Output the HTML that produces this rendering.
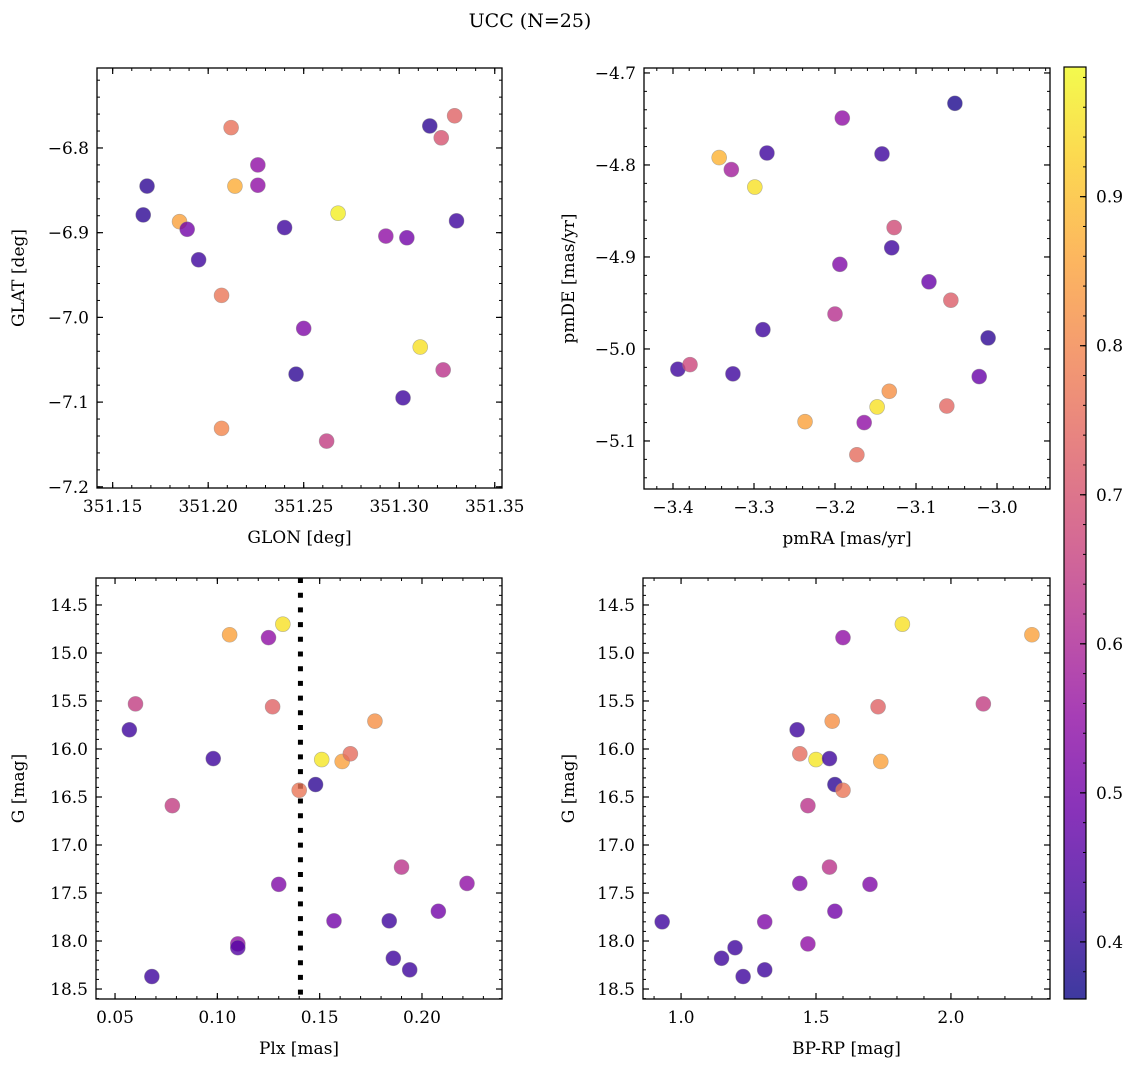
<!DOCTYPE html>
<html><head><meta charset="utf-8">
<style>
html,body{margin:0;padding:0;background:#fff;}
svg{display:block;font-family:"DejaVu Serif","Liberation Serif",serif;}
</style></head>
<body>
<svg id="fig" width="1136" height="1067" viewBox="0 0 1136 1067" xmlns="http://www.w3.org/2000/svg">
<text x="530" y="27" font-size="19" text-anchor="middle">UCC (N=25)</text>
</svg>
<script>
// ---- data ----
const glon = [351.168,351.166,351.185,351.189,351.195,351.207,351.207,351.212,351.214,351.226,351.226,351.240,351.250,351.246,351.262,351.268,351.293,351.304,351.302,351.311,351.316,351.322,351.329,351.330,351.323];
const glat = [-6.845,-6.879,-6.887,-6.896,-6.932,-6.974,-7.131,-6.776,-6.845,-6.820,-6.844,-6.894,-7.013,-7.067,-7.146,-6.877,-6.904,-6.906,-7.095,-7.035,-6.774,-6.788,-6.762,-6.886,-7.062];
const probTL = [0.40,0.40,0.85,0.50,0.42,0.77,0.80,0.76,0.87,0.55,0.55,0.42,0.52,0.40,0.65,0.97,0.55,0.50,0.42,0.95,0.40,0.70,0.73,0.42,0.63];

const pmra = [-3.052,-3.191,-3.343,-3.328,-3.284,-3.299,-3.142,-3.127,-3.130,-3.194,-3.084,-3.057,-3.200,-3.289,-3.011,-3.394,-3.379,-3.326,-3.022,-3.133,-3.148,-3.062,-3.237,-3.164,-3.173];
const pmde = [-4.733,-4.749,-4.792,-4.805,-4.787,-4.824,-4.788,-4.868,-4.890,-4.908,-4.927,-4.947,-4.962,-4.979,-4.988,-5.022,-5.017,-5.027,-5.030,-5.046,-5.063,-5.062,-5.079,-5.080,-5.115];
const probTR = [0.38,0.55,0.88,0.58,0.42,0.95,0.42,0.68,0.42,0.52,0.48,0.72,0.62,0.42,0.40,0.42,0.67,0.42,0.48,0.82,0.95,0.74,0.85,0.55,0.75];

const plx = [0.057,0.060,0.078,0.068,0.098,0.106,0.110,0.110,0.125,0.127,0.130,0.132,0.140,0.148,0.151,0.161,0.165,0.157,0.177,0.190,0.184,0.186,0.194,0.208,0.222];
const gmagBL = [15.80,15.53,16.59,18.37,16.10,14.81,18.03,18.07,14.84,15.56,17.41,14.70,16.43,16.37,16.11,16.13,16.05,17.79,15.71,17.23,17.79,18.18,18.30,17.69,17.40];
const probBL = [0.42,0.65,0.65,0.42,0.42,0.85,0.55,0.45,0.55,0.73,0.52,0.95,0.77,0.40,0.96,0.85,0.75,0.50,0.82,0.63,0.42,0.42,0.42,0.50,0.55];
const plxMedian = 0.1406;

const bprp = [0.93,1.15,1.20,1.23,1.31,1.31,1.43,1.44,1.44,1.47,1.47,1.50,1.55,1.55,1.56,1.57,1.57,1.60,1.60,1.70,1.73,1.74,1.82,2.12,2.30];
const gmagBR = [17.80,18.18,18.07,18.37,17.80,18.30,15.80,16.05,17.40,16.59,18.03,16.11,16.10,17.23,15.71,16.37,17.69,16.43,14.84,17.41,15.56,16.13,14.70,15.53,14.81];
const probBR = [0.42,0.42,0.42,0.42,0.52,0.42,0.42,0.75,0.52,0.63,0.55,0.96,0.42,0.63,0.82,0.40,0.50,0.77,0.55,0.52,0.73,0.85,0.95,0.65,0.85];

const ticksGlon = [351.15,351.20,351.25,351.30,351.35];
const ticksGlat = [-6.8,-6.9,-7.0,-7.1,-7.2];
const ticksPmra = [-3.4,-3.3,-3.2,-3.1,-3.0];
const ticksPmde = [-4.7,-4.8,-4.9,-5.0,-5.1];
const ticksPlx = [0.05,0.10,0.15,0.20];
const ticksG = [14.5,15.0,15.5,16.0,16.5,17.0,17.5,18.0,18.5];
const ticksBprp = [1.0,1.5,2.0];
const ticksCbar = [0.4,0.5,0.6,0.7,0.8,0.9];
const cMin = 0.3617, cMax = 0.987;

// ---- helpers ----
const NS = "http://www.w3.org/2000/svg";
const svg = document.getElementById('fig');
const FS = 17;
function mk(tag, attrs, parent){const e=document.createElementNS(NS,tag);for(const k in attrs)e.setAttribute(k,attrs[k]);(parent||svg).appendChild(e);return e;}
const plasma=[[13,8,135],[65,4,157],[106,0,168],[143,13,164],[177,42,144],[204,71,120],[225,100,98],[242,132,75],[252,166,54],[252,206,37],[240,249,33]];
function cmap(v){let t=(v-cMin)/(cMax-cMin);t=Math.max(0,Math.min(1,t))*10;const i=Math.min(9,Math.floor(t)),f=t-i;const a=plasma[i],b=plasma[i+1];return `rgb(${Math.round(a[0]+(b[0]-a[0])*f)},${Math.round(a[1]+(b[1]-a[1])*f)},${Math.round(a[2]+(b[2]-a[2])*f)})`;}
function fmt(v,d){const s=Math.abs(v).toFixed(d);return (v<0?'\u2212':'')+s;}

function panel(cfg){
  const g=mk('g',{});
  
  
  const {x0,x1,y0,y1,xd,yd}=cfg;
  const sx=v=>x0+(v-xd[0])/(xd[1]-xd[0])*(x1-x0);
  const sy=v=>y0+(v-yd[0])/(yd[1]-yd[0])*(y1-y0);
  const lo=Math.min(xd[0],xd[1]),hi=Math.max(xd[0],xd[1]);
  const ylo=Math.min(yd[0],yd[1]),yhi=Math.max(yd[0],yd[1]);
  for(let k=Math.ceil(lo/cfg.xminor-1e-6);k*cfg.xminor<=hi+1e-9;k++){const X=sx(k*cfg.xminor);
    mk('line',{x1:X,x2:X,y1:y1,y2:y1-3,stroke:'#000','stroke-width':1},g);mk('line',{x1:X,x2:X,y1:y0,y2:y0+3,stroke:'#000','stroke-width':1},g);}
  for(let k=Math.ceil(ylo/cfg.yminor-1e-6);k*cfg.yminor<=yhi+1e-9;k++){const Y=sy(k*cfg.yminor);
    mk('line',{x1:x0,x2:x0+3,y1:Y,y2:Y,stroke:'#000','stroke-width':1},g);mk('line',{x1:x1,x2:x1-3,y1:Y,y2:Y,stroke:'#000','stroke-width':1},g);}
  cfg.xt.forEach(v=>{const X=sx(v);
    mk('line',{x1:X,x2:X,y1:y1,y2:y1-6,stroke:'#000','stroke-width':1.2},g);mk('line',{x1:X,x2:X,y1:y0,y2:y0+6,stroke:'#000','stroke-width':1.2},g);
    const t=mk('text',{x:X,y:y1+24,'font-size':FS,'text-anchor':'middle'},g);t.textContent=fmt(v,cfg.xdec);
    
    });
  cfg.yt.forEach(v=>{const Y=sy(v);
    mk('line',{x1:x0,x2:x0+6,y1:Y,y2:Y,stroke:'#000','stroke-width':1.2},g);mk('line',{x1:x1,x2:x1-6,y1:Y,y2:Y,stroke:'#000','stroke-width':1.2},g);
    const t=mk('text',{x:x0-8,y:Y+6,'font-size':FS,'text-anchor':'end'},g);t.textContent=fmt(v,cfg.ydec);
    
    });
  if(cfg.vline!==undefined){const X=sx(cfg.vline);
    const l=mk('line',{x1:X,x2:X,y1:y0,y2:y1,stroke:'#000','stroke-width':5,'stroke-dasharray':'5 9.7'},g);
    
    }
  cfg.xs.forEach((v,i)=>{
    const c=mk('circle',{cx:sx(v),cy:sy(cfg.ys[i]),r:7.5,fill:cmap(cfg.cs[i]),'fill-opacity':0.8,stroke:'#888','stroke-opacity':0.6,'stroke-width':0.6},g);
    
    });
  const fr=mk('rect',{x:x0,y:y0,width:x1-x0,height:y1-y0,fill:'none',stroke:'#000','stroke-width':1.3},g);
  
  
  const xl=mk('text',{x:(x0+x1)/2,y:y1+55,'font-size':FS,'text-anchor':'middle'},g);xl.textContent=cfg.xlabel;
  
  
  const ly=(y0+y1)/2;
  const yl=mk('text',{x:cfg.ylx,y:ly,'font-size':FS,'text-anchor':'middle',transform:`rotate(-90 ${cfg.ylx} ${ly})`},g);yl.textContent=cfg.ylabel;
  
  
}

panel({name:'glon-glat-panel',x0:97,x1:502,y0:68,y1:488,xd:[351.1418,351.3538],yd:[-6.7056,-7.2014],
  xt:ticksGlon,yt:ticksGlat,xminor:0.01,yminor:0.02,xdec:2,ydec:1,xs:glon,ys:glat,cs:probTL,xlabel:'GLON [deg]',ylabel:'GLAT [deg]',ylx:24});
panel({name:'pm-panel',x0:644,x1:1050,y0:68,y1:489,xd:[-3.4358,-2.9346],yd:[-4.6946,-5.1522],
  xt:ticksPmra,yt:ticksPmde,xminor:0.02,yminor:0.02,xdec:1,ydec:1,xs:pmra,ys:pmde,cs:probTR,xlabel:'pmRA [mas/yr]',ylabel:'pmDE [mas/yr]',ylx:574});
panel({name:'plx-g-panel',x0:96,x1:502,y0:578,y1:999,xd:[0.0407,0.2391],yd:[14.219,18.604],
  xt:ticksPlx,yt:ticksG,xminor:0.01,yminor:0.1,xdec:2,ydec:1,xs:plx,ys:gmagBL,cs:probBL,vline:plxMedian,xlabel:'Plx [mas]',ylabel:'G [mag]',ylx:24});
panel({name:'cmd-panel',x0:643,x1:1050,y0:578,y1:999,xd:[0.859,2.367],yd:[14.219,18.604],
  xt:ticksBprp,yt:ticksG,xminor:0.1,yminor:0.1,xdec:1,ydec:1,xs:bprp,ys:gmagBR,cs:probBR,xlabel:'BP-RP [mag]',ylabel:'G [mag]',ylx:574});

// colorbar
(function(){
  const x0=1064,x1=1086,y0=67,y1=999;
  const g=mk('g',{});
  
  
  const defs=mk('defs',{},g);
  const lg=mk('linearGradient',{id:'cb',x1:0,y1:1,x2:0,y2:0},defs);
  for(let i=0;i<=20;i++){const v=cMin+(cMax-cMin)*i/20;mk('stop',{offset:(i/20),'stop-color':cmap(v)},lg);}
  mk('rect',{x:x0,y:y0,width:x1-x0,height:y1-y0,fill:'url(#cb)','fill-opacity':0.8},g);
  const sy=v=>y1-(v-cMin)/(cMax-cMin)*(y1-y0);
  for(let k=19;k<=49;k++){const v=k*0.02;if(v<cMin||v>cMax)continue;const Y=sy(v);mk('line',{x1:x1,x2:x1-3,y1:Y,y2:Y,stroke:'#000','stroke-width':1},g);}
  ticksCbar.forEach(v=>{const Y=sy(v);mk('line',{x1:x1,x2:x1-6,y1:Y,y2:Y,stroke:'#000','stroke-width':1.2},g);
    const t=mk('text',{x:x1+10,y:Y+6,'font-size':FS},g);t.textContent=v.toFixed(1);
    
    });
  mk('rect',{x:x0,y:y0,width:x1-x0,height:y1-y0,fill:'none',stroke:'#000','stroke-width':1.2},g);
})();
</script>
</body></html>
